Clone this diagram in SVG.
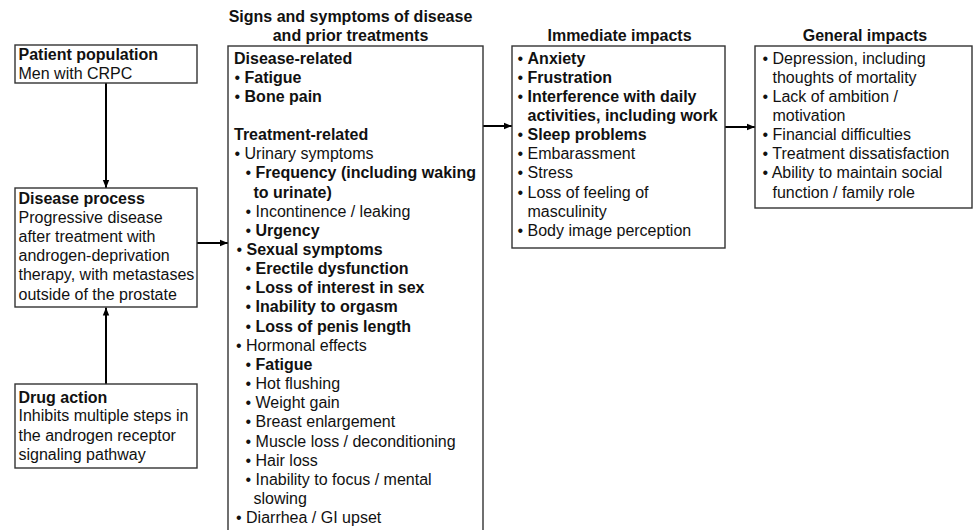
<svg xmlns="http://www.w3.org/2000/svg" width="973" height="530" viewBox="0 0 973 530">
<style>
text{font-family:"Liberation Sans",Arial,sans-serif;font-size:16px;fill:#111}
.b{font-weight:bold}
.t{font-weight:bold;text-anchor:middle}
.box{fill:#fff;stroke:#333;stroke-width:1.4}
.c{stroke:#000;stroke-width:2;fill:none;marker-end:url(#ah)}
</style>
<defs>
<marker id="ah" markerUnits="userSpaceOnUse" markerWidth="8" markerHeight="8" viewBox="0 0 8 8" refX="8" refY="4" orient="auto">
<path d="M0,0.8 L8,4 L0,7.2 Z" fill="#000"/>
</marker>
</defs>
<rect width="973" height="530" fill="#fff"/>

<g id="connectors">
<line class="c" x1="106" y1="83" x2="106" y2="188"/>
<line class="c" x1="106" y1="384" x2="106" y2="307.5"/>
<line class="c" x1="197" y1="243" x2="228" y2="243"/>
<line class="c" x1="483" y1="126" x2="512" y2="126"/>
<line class="c" x1="725" y1="127" x2="755" y2="127"/>
</g>

<g id="patient-population">
<rect class="box" x="15" y="45" width="182" height="38"/>
<text x="18.5" y="60" class="b">Patient population</text>
<text x="18.5" y="79">Men with CRPC</text>
</g>

<g id="disease-process">
<rect class="box" x="15" y="188" width="182" height="119"/>
<text x="18.5" y="203.5" class="b">Disease process</text>
<text x="18.5" y="222.7">Progressive disease</text>
<text x="18.5" y="241.9">after treatment with</text>
<text x="18.5" y="261.1">androgen-deprivation</text>
<text x="18.5" y="280.3">therapy, with metastases</text>
<text x="18.5" y="299.5">outside of the prostate</text>
</g>

<g id="drug-action">
<rect class="box" x="15" y="384" width="182" height="84"/>
<text x="18.5" y="402.5" class="b">Drug action</text>
<text x="18.5" y="421.3">Inhibits multiple steps in</text>
<text x="18.5" y="440.6">the androgen receptor</text>
<text x="18.5" y="459.8">signaling pathway</text>
</g>

<g id="signs-symptoms">
<text x="350.5" y="22" class="t">Signs and symptoms of disease</text>
<text x="350.5" y="41" class="t">and prior treatments</text>
<rect class="box" x="228" y="46" width="255" height="492"/>
<text x="234" y="63.5" class="b">Disease-related</text>
<text x="234.5" y="82.65"><tspan>• </tspan><tspan class="b">Fatigue</tspan></text>
<text x="234.5" y="101.8"><tspan>• </tspan><tspan class="b">Bone pain</tspan></text>
<text x="234" y="140.1" class="b">Treatment-related</text>
<text x="234.5" y="159.25">• Urinary symptoms</text>
<text x="245.5" y="178.4"><tspan>• </tspan><tspan class="b">Frequency (including waking</tspan></text>
<text x="253.5" y="197.55" class="b">to urinate)</text>
<text x="245.5" y="216.7">• Incontinence / leaking</text>
<text x="245.5" y="235.85"><tspan>• </tspan><tspan class="b">Urgency</tspan></text>
<text x="236.5" y="255"><tspan>• </tspan><tspan class="b">Sexual symptoms</tspan></text>
<text x="245.5" y="274.15"><tspan>• </tspan><tspan class="b">Erectile dysfunction</tspan></text>
<text x="245.5" y="293.3"><tspan>• </tspan><tspan class="b">Loss of interest in sex</tspan></text>
<text x="245.5" y="312.45"><tspan>• </tspan><tspan class="b">Inability to orgasm</tspan></text>
<text x="245.5" y="331.6"><tspan>• </tspan><tspan class="b">Loss of penis length</tspan></text>
<text x="236" y="350.75">• Hormonal effects</text>
<text x="245.5" y="369.9"><tspan>• </tspan><tspan class="b">Fatigue</tspan></text>
<text x="245.5" y="389.05">• Hot flushing</text>
<text x="245.5" y="408.2">• Weight gain</text>
<text x="245.5" y="427.35">• Breast enlargement</text>
<text x="245.5" y="446.5">• Muscle loss / deconditioning</text>
<text x="245.5" y="465.65">• Hair loss</text>
<text x="245.5" y="484.8">• Inability to focus / mental</text>
<text x="253.5" y="503.95">slowing</text>
<text x="236" y="523.1">• Diarrhea / GI upset</text>
</g>

<g id="immediate-impacts">
<text x="619.5" y="41" class="t">Immediate impacts</text>
<rect class="box" x="512" y="46" width="213" height="202"/>
<text x="517.5" y="63.5"><tspan>• </tspan><tspan class="b">Anxiety</tspan></text>
<text x="517.5" y="82.65"><tspan>• </tspan><tspan class="b">Frustration</tspan></text>
<text x="517.5" y="101.8"><tspan>• </tspan><tspan class="b">Interference with daily</tspan></text>
<text x="527.5" y="120.95" class="b">activities, including work</text>
<text x="517.5" y="140.1"><tspan>• </tspan><tspan class="b">Sleep problems</tspan></text>
<text x="517.5" y="159.25">• Embarassment</text>
<text x="517.5" y="178.4">• Stress</text>
<text x="517.5" y="197.55">• Loss of feeling of</text>
<text x="527.5" y="216.7">masculinity</text>
<text x="517.5" y="235.85">• Body image perception</text>
</g>

<g id="general-impacts">
<text x="865" y="41" class="t">General impacts</text>
<rect class="box" x="755" y="46" width="217" height="162"/>
<text x="762.5" y="63.5">• Depression, including</text>
<text x="772.5" y="82.65">thoughts of mortality</text>
<text x="762.5" y="101.8">• Lack of ambition /</text>
<text x="772.5" y="120.95">motivation</text>
<text x="762.5" y="140.1">• Financial difficulties</text>
<text x="762.5" y="159.25">• Treatment dissatisfaction</text>
<text x="762.5" y="178.4">• Ability to maintain social</text>
<text x="772.5" y="197.55">function / family role</text>
</g>
</svg>
